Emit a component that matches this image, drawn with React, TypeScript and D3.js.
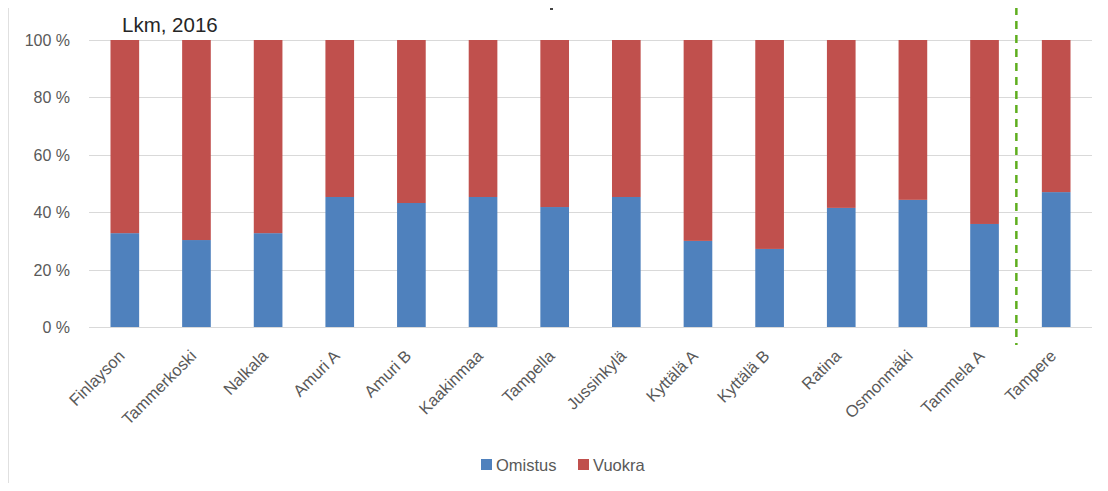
import { useEffect, useRef } from 'react';
import * as d3 from 'd3';

// Chart data
const categories = [
    'Finlayson', 'Tammerkoski', 'Nalkala', 'Amuri A', 'Amuri B', 'Kaakinmaa', 'Tampella',
    'Jussinkylä', 'Kyttälä A', 'Kyttälä B', 'Ratina', 'Osmonmäki', 'Tammela A', 'Tampere',
];
const omistus = [32.7, 30.3, 32.7, 45.3, 43.2, 45.3, 41.8, 45.3, 30.0, 27.2, 41.5, 44.3, 35.9, 47.0];
const vuokra = omistus.map(v => 100 - v);
const yTicks = [0, 20, 40, 60, 80, 100];
const seriesNames = ['Omistus', 'Vuokra'];
const seriesColors = ['#4F81BD', '#C0504D'];

const W = 1108;
const H = 491;
const FONT = '"Liberation Sans", Arial, sans-serif';

export default function App() {
    const ref = useRef<SVGSVGElement>(null);

    useEffect(() => {
        if (!ref.current) return;
        const svg = d3.select(ref.current);
        svg.selectAll('*').remove();

        const x = d3.scaleBand<string>()
            .domain(categories)
            .range([89, 1092])
            .paddingInner(0.6)
            .paddingOuter(0.3);
        const y = d3.scaleLinear().domain([0, 100]).range([327, 40]);

        // faint border on the left edge (cropped neighbour chart)
        const edge = svg.append('g').attr('stroke', '#e0e0e0');
        edge.append('line').attr('x1', 8.5).attr('x2', 8.5).attr('y1', 7).attr('y2', 488);
        edge.selectAll('line.tick')
            .data(d3.range(33, 488, 32))
            .join('line')
            .attr('class', 'tick')
            .attr('x1', 6).attr('x2', 9)
            .attr('y1', d => d + 0.5).attr('y2', d => d + 0.5);

        // gridlines
        svg.append('g')
            .selectAll('line')
            .data(yTicks)
            .join('line')
            .attr('x1', 89).attr('x2', 1092)
            .attr('y1', d => Math.round(y(d)) + 0.5)
            .attr('y2', d => Math.round(y(d)) + 0.5)
            .attr('stroke', '#d9d9d9')
            .attr('stroke-width', 1);

        // y labels
        svg.append('g')
            .selectAll('text')
            .data(yTicks)
            .join('text')
            .attr('x', 70)
            .attr('y', d => y(d) + 6)
            .attr('text-anchor', 'end')
            .attr('font-family', FONT)
            .attr('font-size', 16)
            .attr('fill', '#595959')
            .text(d => `${d} %`);

        // stacked bars
        const rows = categories.map((c, i) => ({ name: c, Omistus: omistus[i], Vuokra: vuokra[i] }));
        const stack = d3.stack<any>().keys(seriesNames)(rows);
        svg.append('g')
            .selectAll('g')
            .data(stack)
            .join('g')
            .attr('fill', (_, i) => seriesColors[i])
            .selectAll('rect')
            .data(d => d)
            .join('rect')
            .attr('x', d => x(d.data.name)!)
            .attr('width', x.bandwidth())
            .attr('y', d => y(d[1]))
            .attr('height', d => y(d[0]) - y(d[1]));

        // dashed separator before Tampere
        const sepX = x('Tampere')! - x.step() * x.paddingInner() / 2 - 4;
        svg.append('line')
            .attr('x1', sepX).attr('x2', sepX)
            .attr('y1', 7).attr('y2', 345)
            .attr('stroke', '#5fae1f')
            .attr('stroke-width', 2.5)
            .attr('stroke-dasharray', '8,6');

        // x labels
        svg.append('g')
            .selectAll('text')
            .data(categories)
            .join('text')
            .attr('transform', d => `translate(${x(d)! + x.bandwidth() / 2 + 1},${357}) rotate(-45)`)
            .attr('text-anchor', 'end')
            .attr('font-family', FONT)
            .attr('font-size', 16.5)
            .attr('fill', '#595959')
            .text(d => d);

        // title
        svg.append('text')
            .attr('x', 122).attr('y', 32)
            .attr('font-family', FONT)
            .attr('font-size', 20.5)
            .attr('fill', '#262626')
            .text('Lkm, 2016');

        // tiny mark at top
        svg.append('rect')
            .attr('x', 550).attr('y', 7).attr('width', 3).attr('height', 3)
            .attr('fill', '#444');

        // legend
        const legendX = [481, 578];
        const lg = svg.append('g')
            .selectAll('g')
            .data(seriesNames)
            .join('g')
            .attr('transform', (_, i) => `translate(${legendX[i]},459)`);
        lg.append('rect')
            .attr('width', 11).attr('height', 11)
            .attr('fill', (_, i) => seriesColors[i]);
        lg.append('text')
            .attr('x', 15).attr('y', 11.5)
            .attr('font-family', FONT)
            .attr('font-size', 16.5)
            .attr('fill', '#595959')
            .text(d => d);
    }, []);

    return (
        <svg ref={ref} width={W} height={H} style={{ display: 'block', background: '#fff', margin: -8 }} />
    );
}
